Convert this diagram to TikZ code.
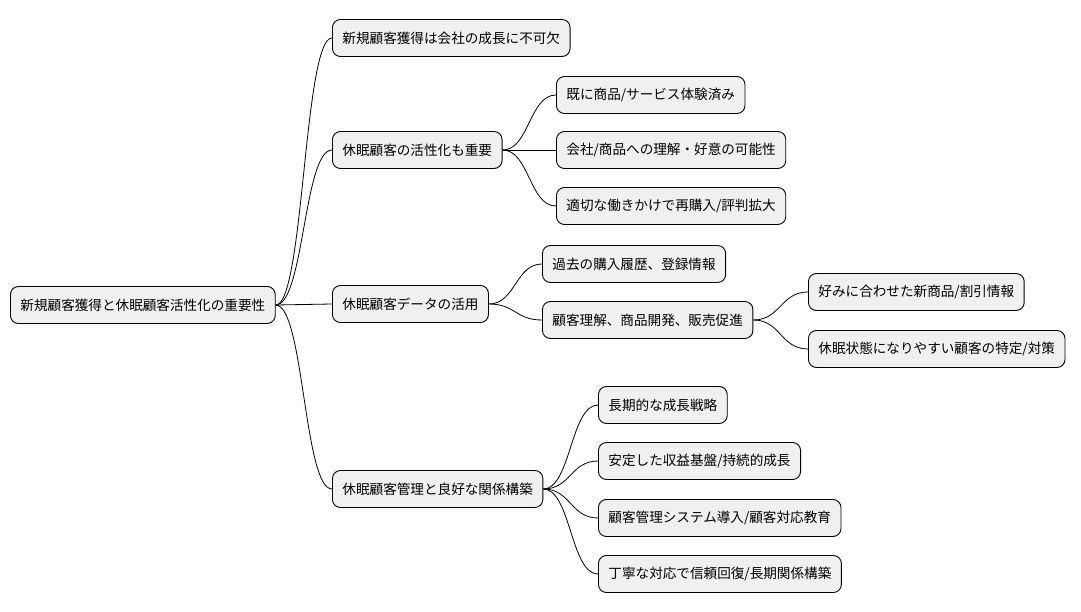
\documentclass[tikz,border=0pt]{standalone}
\usepackage{fontspec}
\setmainfont{Noto Sans CJK JP}
\usetikzlibrary{calc}
\begin{document}
\begin{tikzpicture}[x=1pt,y=-1pt,
  box/.style={draw=black,line width=0.9pt,fill=black!6,rounded corners=8pt,anchor=west,
    minimum height=37pt,inner xsep=10pt,font=\fontsize{13.6pt}{15pt}\selectfont},
  conn/.style={line width=0.8pt,to path={let \p1=(\tikztostart),\p2=(\tikztotarget) in
    .. controls ({(\x1+\x2)/2},\y1) and ({(\x1+\x2)/2},\y2) .. (\p2)}}]
\useasboundingbox (0,0) rectangle (1081,612);
\node[box] (r) at (10,305) {新規顧客獲得と休眠顧客活性化の重要性};
\node[box] (a) at (332,38) {新規顧客獲得は会社の成長に不可欠};
\node[box] (b) at (332,150) {休眠顧客の活性化も重要};
\node[box] (b1) at (556,95) {既に商品/サービス体験済み};
\node[box] (b2) at (556,150) {会社/商品への理解・好意の可能性};
\node[box] (b3) at (556,206) {適切な働きかけで再購入/評判拡大};
\node[box] (c) at (332,304) {休眠顧客データの活用};
\node[box] (c1) at (542,264) {過去の購入履歴、登録情報};
\node[box] (c2) at (542,320) {顧客理解、商品開発、販売促進};
\node[box] (c21) at (808,292) {好みに合わせた新商品/割引情報};
\node[box] (c22) at (808,349) {休眠状態になりやすい顧客の特定/対策};
\node[box] (d) at (332,489) {休眠顧客管理と良好な関係構築};
\node[box] (d1) at (598,405) {長期的な成長戦略};
\node[box] (d2) at (598,461) {安定した収益基盤/持続的成長};
\node[box] (d3) at (598,518) {顧客管理システム導入/顧客対応教育};
\node[box] (d4) at (598,574) {丁寧な対応で信頼回復/長期関係構築};
\foreach \p/\c in {r/a,r/b,r/c,r/d,b/b1,b/b2,b/b3,c/c1,c/c2,c2/c21,c2/c22,d/d1,d/d2,d/d3,d/d4}
  \draw[conn] (\p.east) to (\c.west);
\end{tikzpicture}
\end{document}
